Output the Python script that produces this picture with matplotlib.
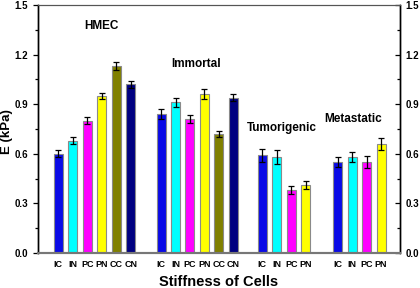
import numpy as np
import matplotlib
matplotlib.use('Agg')
import matplotlib.pyplot as plt

plt.rcParams['font.family'] = ['Liberation Sans', 'DejaVu Sans']
plt.rcParams['font.weight'] = 'bold'

# dades llegides de la figura
grups = ['HMEC', 'Immortal', 'Tumorigenic', 'Metastatic']
etiquetes_hmec = ['IC', 'IN', 'PC', 'PN', 'CC', 'CN']
etiquetes_imm = ['IC', 'IN', 'PC', 'PN', 'CC', 'CN']
etiquetes_tum = ['IC', 'IN', 'PC', 'PN']
etiquetes_met = ['IC', 'IN', 'PC', 'PN']

E_hmec = [0.60, 0.68, 0.80, 0.95, 1.13, 1.02]
err_hmec = [0.02, 0.02, 0.02, 0.02, 0.025, 0.02]
E_imm = [0.84, 0.91, 0.81, 0.96, 0.72, 0.94]
err_imm = [0.03, 0.025, 0.025, 0.03, 0.02, 0.02]
E_tum = [0.59, 0.58, 0.38, 0.41]
err_tum = [0.04, 0.04, 0.025, 0.025]
E_met = [0.55, 0.58, 0.55, 0.66]
err_met = [0.03, 0.03, 0.035, 0.035]

colors = {'IC': '#0a0ae6', 'IN': '#00ffff', 'PC': '#ff00ff', 'PN': '#ffff00',
          'CC': '#808000', 'CN': '#000080'}

inici = [1.4, 8.5, 15.5, 20.7]     # posicio de la primera barra de cada grup
etiq = [etiquetes_hmec, etiquetes_imm, etiquetes_tum, etiquetes_met]
vals = [E_hmec, E_imm, E_tum, E_met]
errs = [err_hmec, err_imm, err_tum, err_met]
pos_text = [(4.4, 1.37), (10.9, 1.14), (16.85, 0.756), (21.75, 0.81)]

fig = plt.figure(figsize=(4.2, 2.88), dpi=100)
ax = fig.add_axes([0.0905, 0.1215, 0.8615, 0.8615])

xt, xl = [], []
for g in range(4):
    x = inici[g] + np.arange(len(vals[g]))
    ax.bar(x, vals[g], width=0.62, color=[colors[e] for e in etiq[g]],
           edgecolor='#8a8a8a', linewidth=0.8, zorder=2)
    ax.errorbar(x, vals[g], yerr=errs[g], fmt='none', ecolor='black',
                elinewidth=0.9, capsize=2.5, capthick=0.9, zorder=3)
    xt += list(x)
    xl += etiq[g]
    ax.text(pos_text[g][0], pos_text[g][1], grups[g], ha='center', va='center',
            fontsize=8.5, fontweight='bold')

ax.set_xlim(0, 25)
ax.set_ylim(0, 1.5)
ax.set_xticks(xt)
ax.set_xticklabels(xl, fontsize=6.5, fontweight='bold')
ax.tick_params(axis='x', length=0, pad=5)
ax.set_yticks(np.arange(0, 1.51, 0.3))
ax.set_yticks(np.arange(0.15, 1.5, 0.3), minor=True)
ax.set_yticklabels(['%.1f' % v for v in np.arange(0, 1.51, 0.3)], fontsize=7, fontweight='bold')
ax.tick_params(axis='y', which='major', direction='out', length=3.5, width=0.9, labelsize=7)
ax.tick_params(axis='y', which='minor', direction='out', length=2.5, width=0.9)

ax2 = ax.twinx()
ax2.set_ylim(0, 1.5)
ax2.set_yticks(np.arange(0, 1.51, 0.3))
ax2.set_yticks(np.arange(0.15, 1.5, 0.3), minor=True)
ax2.set_yticklabels(['%.1f' % v for v in np.arange(0, 1.51, 0.3)], fontsize=7, fontweight='bold')
ax2.tick_params(axis='y', which='major', direction='in', length=3.5, width=0.9, pad=4)
ax2.tick_params(axis='y', which='minor', direction='in', length=2.5, width=0.9)

for a in (ax, ax2):
    a.spines['top'].set_color('#555555')
    a.spines['top'].set_linewidth(0.8)
    a.spines['bottom'].set_color('#777777')
    a.spines['bottom'].set_linewidth(1.5)
    a.spines['left'].set_linewidth(1.0)
    a.spines['right'].set_linewidth(1.0)

ax.set_ylabel('E (kPa)', fontsize=9.5, fontweight='bold')
ax.yaxis.set_label_coords(-0.07, 0.49)
ax.set_xlabel('Stiffness of Cells', fontsize=10.5, fontweight='bold')
ax.xaxis.set_label_coords(0.5, -0.087)

fig.savefig('out.png', dpi=100)
